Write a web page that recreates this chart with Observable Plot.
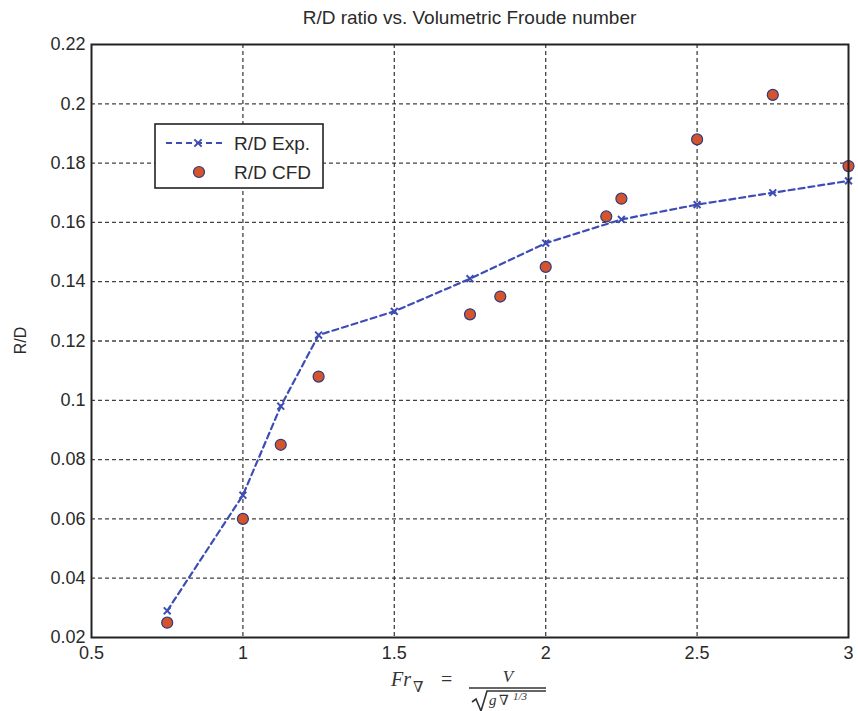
<!DOCTYPE html>
<html><head><meta charset="utf-8">
<script src="https://cdn.jsdelivr.net/npm/d3@7"></script>
<script src="https://cdn.jsdelivr.net/npm/@observablehq/plot@0.6"></script>
<style>body{margin:0;background:#fff;font-family:"Liberation Sans",Arial,sans-serif}</style>
</head><body><div id="chart"></div>
<script>
const expFr = [0.75, 1, 1.125, 1.25, 1.5, 1.75, 2, 2.25, 2.5, 2.75, 3];
const expRD = [0.029, 0.068, 0.098, 0.122, 0.130, 0.141, 0.153, 0.161, 0.166, 0.170, 0.174];
const cfdFr = [0.75, 1, 1.125, 1.25, 1.75, 1.85, 2, 2.2, 2.25, 2.5, 2.75, 3];
const cfdRD = [0.025, 0.060, 0.085, 0.108, 0.129, 0.135, 0.145, 0.162, 0.168, 0.188, 0.203, 0.179];
const xTicks = [0.5, 1, 1.5, 2, 2.5, 3];
const yTicks = [0.02, 0.04, 0.06, 0.08, 0.1, 0.12, 0.14, 0.16, 0.18, 0.2, 0.22];
const titleText = "R/D ratio vs. Volumetric Froude number";
const yLabel = "R/D";
const legendLabels = ["R/D Exp.", "R/D CFD"];

const expData = expFr.map((x, i) => ({x, y: expRD[i]}));
const cfdData = cfdFr.map((x, i) => ({x, y: cfdRD[i]}));
const lineColor = "#3d4db5";
const dotFill = "#d4542c";
const dotStroke = "#2d3a80";
const fmt = d => String(+d.toFixed(2));

const W = 858, H = 711, ML = 91, MR = 10, MT = 44, MB = 74;
const plot = Plot.plot({
  width: W, height: H,
  marginLeft: ML, marginRight: MR, marginTop: MT, marginBottom: MB,
  style: {fontFamily: "'Liberation Sans', Arial, sans-serif", fontSize: "18px", color: "#2a2a2a", background: "#fff"},
  x: {domain: [0.5, 3], ticks: xTicks, tickFormat: fmt, tickSize: 0, tickPadding: 9, label: null},
  y: {domain: [0.02, 0.22], ticks: yTicks, tickFormat: fmt, tickSize: 0, tickPadding: 6, label: null},
  marks: [
    Plot.gridX(xTicks.slice(1, -1), {stroke: "#222", strokeOpacity: 0.85, strokeWidth: 1.3, strokeDasharray: "4,3"}),
    Plot.gridY(yTicks.slice(1, -1), {stroke: "#222", strokeOpacity: 0.85, strokeWidth: 1.3, strokeDasharray: "4,3"}),
    Plot.line(expData, {x: "x", y: "y", stroke: lineColor, strokeWidth: 2.2, strokeDasharray: "6,4"}),
    Plot.dot(expData, {x: "x", y: "y", symbol: "times", r: 3.2, stroke: lineColor, strokeWidth: 2}),
    Plot.dot(cfdData, {x: "x", y: "y", r: 5.5, fill: dotFill, stroke: dotStroke, strokeWidth: 1.2}),
    Plot.frame({stroke: "#222", strokeWidth: 2})
  ]
});
document.getElementById("chart").appendChild(plot);

const svg = d3.select(plot);
const cx = (ML + W - MR) / 2;
// Title
svg.append("text").attr("x", cx).attr("y", 24).attr("text-anchor", "middle")
  .attr("font-size", 19).attr("fill", "#2a2a2a").text(titleText);
// Y label
svg.append("text").attr("transform", `translate(26,${(MT + H - MB) / 2}) rotate(-90)`)
  .attr("text-anchor", "middle").attr("font-size", 16).attr("fill", "#2a2a2a").text(yLabel);
// X label formula: Fr_∇ = V / sqrt(g ∇^{1/3})
const fx = svg.append("g").attr("font-family", "'Liberation Serif','DejaVu Serif',serif")
  .attr("fill", "#333").attr("text-anchor", "start");
fx.append("text").attr("x", 391).attr("y", 686).attr("font-size", 20).attr("font-style", "italic").text("Fr");
fx.append("text").attr("x", 413).attr("y", 692).attr("font-size", 15).text("∇");
fx.append("text").attr("x", 441).attr("y", 686).attr("font-size", 20).text("=");
fx.append("text").attr("x", 508).attr("y", 682).attr("font-size", 17).attr("font-style", "italic").attr("text-anchor", "middle").text("V");
fx.append("line").attr("x1", 469).attr("x2", 546).attr("y1", 688).attr("y2", 688).attr("stroke", "#333").attr("stroke-width", 1.6);
fx.append("path").attr("d", "M472,702 L476,699 L481,711 L487,691 L546,691").attr("fill", "none").attr("stroke", "#333").attr("stroke-width", 1.6);
fx.append("text").attr("x", 489).attr("y", 705).attr("font-size", 15).attr("font-style", "italic").text("g");
fx.append("text").attr("x", 499).attr("y", 705).attr("font-size", 14).text("∇");
fx.append("text").attr("x", 513).attr("y", 700).attr("font-size", 11).attr("font-style", "italic").text("1/3");
// Legend
const lg = svg.append("g").attr("text-anchor", "start");
lg.append("rect").attr("x", 155).attr("y", 124).attr("width", 168).attr("height", 64)
  .attr("fill", "#fff").attr("stroke", "#222").attr("stroke-width", 1.6);
lg.append("line").attr("x1", 166).attr("x2", 226).attr("y1", 143).attr("y2", 143)
  .attr("stroke", lineColor).attr("stroke-width", 2.2).attr("stroke-dasharray", "6,4");
lg.append("path").attr("d", d3.symbol(d3.symbolTimes, 36)()).attr("transform", "translate(198,143)")
  .attr("stroke", lineColor).attr("stroke-width", 2).attr("fill", "none");
lg.append("circle").attr("cx", 199).attr("cy", 172).attr("r", 5.5).attr("fill", dotFill).attr("stroke", dotStroke).attr("stroke-width", 1.2);
lg.append("text").attr("x", 234).attr("y", 150).attr("font-size", 19).attr("fill", "#2a2a2a").text(legendLabels[0]);
lg.append("text").attr("x", 234).attr("y", 179).attr("font-size", 19).attr("fill", "#2a2a2a").text(legendLabels[1]);
</script></body></html>
